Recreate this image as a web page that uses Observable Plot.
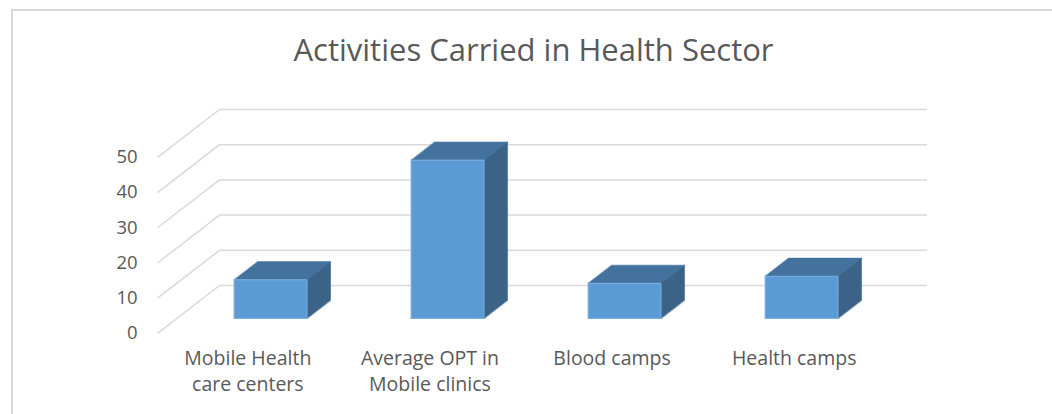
<!DOCTYPE html>
<html>
<head>
<meta charset="utf-8">
<script src="https://cdn.jsdelivr.net/npm/d3@7"></script>
<script src="https://cdn.jsdelivr.net/npm/@observablehq/plot@0.6"></script>
<style>
  html, body { margin: 0; padding: 0; background: #fff; }
  body { width: 1052px; height: 414px; overflow: hidden; position: relative; font-family: "Open Sans", sans-serif; }
  #wrap { position: absolute; left: 11px; top: 9px; width: 1041px; height: 405px;
          border-top: 2px solid #d9d9d9; border-left: 2px solid #d9d9d9; }
  #title { height: 69px; line-height: 40px; padding-top: 0; box-sizing: border-box;
           text-align: center; color: #595959; font-size: 31px; font-weight: 400; }
  #title span { position: relative; top: 18px; }
  #chart svg { display: block; }
</style>
</head>
<body>
<div id="wrap">
  <div id="title"><span>Activities Carried in Health Sector</span></div>
  <div id="chart"></div>
</div>
<script>
// ---- data ----
const categories = ["Mobile Health\ncare centers", "Average OPT in\nMobile clinics", "Blood camps", "Health camps"];
const values = [11, 45, 10, 12];
const yTicks = [0, 10, 20, 30, 40, 50];

// ---- 3D geometry (in scale units) ----
const X0 = -0.53, X1 = 3.47;        // back wall extent (category index units)
const DX = -0.35, DY = -13.6;       // offset of the front edge of the floor relative to the back wall
const F_FRONT = 0.31, F_BACK = 0.69; // depth fractions of bar front / back faces (1 = back wall)
const HW = 0.206;                   // half bar width
const PERSP = 1.029;                // slight perspective widening at the front edge of the floor
const P = (i, u, v, f) => ({x: i + u + DX * (1 - f), y: v + DY * (1 - f)});

const tops = [], sides = [], fronts = [];
values.forEach((v, i) => {
  [P(i, -HW, v, F_FRONT), P(i, HW, v, F_FRONT), P(i, HW, v, F_BACK), P(i, -HW, v, F_BACK)]
    .forEach(p => tops.push({...p, k: i}));
  [P(i, HW, 0, F_FRONT), P(i, HW, v, F_FRONT), P(i, HW, v, F_BACK), P(i, HW, 0, F_BACK)]
    .forEach(p => sides.push({...p, k: i}));
  [P(i, -HW, 0, F_FRONT), P(i, HW, 0, F_FRONT), P(i, HW, v, F_FRONT), P(i, -HW, v, F_FRONT), P(i, -HW, 0, F_FRONT)]
    .forEach(p => fronts.push({...p, k: i}));
});

const grid = "#d9d9d9";
const textColor = "#595959";

const chart = Plot.plot({
  width: 1039,
  height: 334,
  marginTop: 0, marginRight: 0, marginBottom: 0, marginLeft: 0,
  x: {type: "linear", domain: [X0, X1], range: [206, 914], axis: null},
  y: {type: "linear", domain: [0, 50], range: [205, 29], axis: null},
  style: {fontFamily: "'Open Sans', sans-serif", background: "#fff"},
  marks: [
    // back wall gridlines
    Plot.ruleY(yTicks, {y: d => d, x1: () => X0, x2: () => X1, stroke: grid, strokeWidth: 1.5}),
    // side wall gridlines
    Plot.link(yTicks, {x1: () => X0, y1: d => d, x2: () => X0 + DX, y2: d => d + DY, stroke: grid, strokeWidth: 1.5}),
    // tick labels
    Plot.text(yTicks, {x: () => X0 + DX, y: d => d + DY, text: d => String(d), textAnchor: "end", dx: -20,
                       fontSize: 18.5, fill: textColor}),
    // bars
    Plot.line(tops, {x: "x", y: "y", z: "k", fill: "#43729E", stroke: "#43729E", strokeWidth: 0.5, curve: "linear-closed"}),
    Plot.line(sides, {x: "x", y: "y", z: "k", fill: "#3A6387", stroke: "#3A6387", strokeWidth: 0.5, curve: "linear-closed"}),
    Plot.line(fronts, {x: "x", y: "y", z: "k", fill: "#5B9BD5", stroke: "#7DAFE0", strokeWidth: 1}),
    // category labels
    Plot.text(categories, {x: (d, i) => (i - 1.5) * PERSP + 1.5 + DX + 0.0235, y: () => DY, text: d => d,
                           lineAnchor: "top", dy: 14, lineHeight: 1.3, fontSize: 19.5, fill: textColor})
  ]
});
document.getElementById("chart").appendChild(chart);
</script>
</body>
</html>
